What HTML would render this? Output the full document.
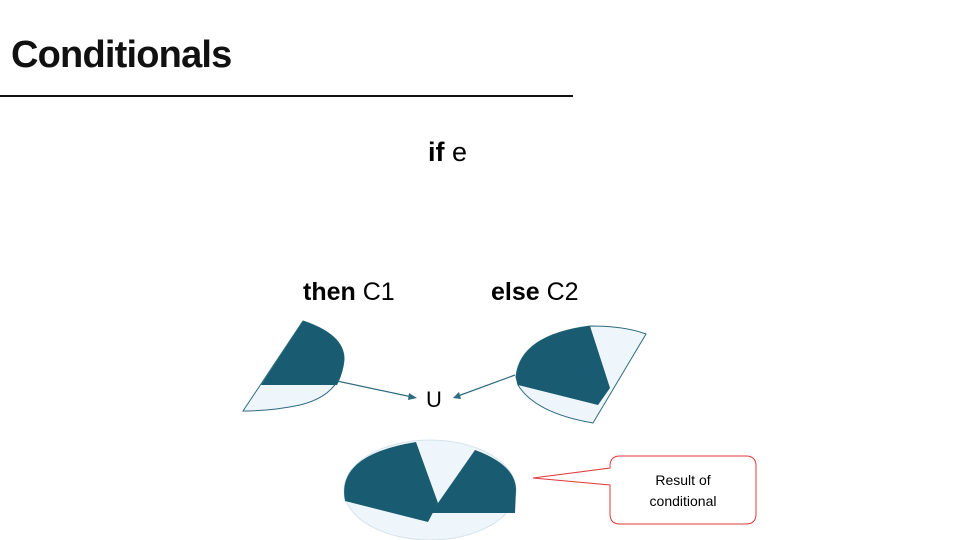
<!DOCTYPE html>
<html><head><style>
body{margin:0;background:#fff;}
svg{display:block;}
text{font-family:"Liberation Sans",sans-serif;}
</style></head><body>
<svg width="960" height="540" viewBox="0 0 960 540">
<text x="11" y="67" font-size="38" font-weight="bold" fill="#111" style="letter-spacing:-0.8px">Conditionals</text>
<line x1="0" y1="96" x2="573" y2="96" stroke="#111" stroke-width="2"/>
<text x="428" y="161" font-size="27"><tspan font-weight="bold">if</tspan> e</text>
<text x="303" y="300" font-size="25"><tspan font-weight="bold">then</tspan> C1</text>
<text x="491" y="300" font-size="25"><tspan font-weight="bold">else</tspan> C2</text>
<path d="M243,411 L303,321 Q345,335 344,360 Q341,395 300,405 Q272,411 243,411 Z" fill="#eef6fb" stroke="#2e6b80" stroke-width="1"/>
<path d="M261,385 L303,321 Q345,335 344,360 Q343,374 337,385 Z" fill="#195b70"/>
<path d="M516,377 Q520,335 590,326 Q625,326 646,334 L593,423 Q535,413 518,385 Z" fill="#eef6fb" stroke="#2e6b80" stroke-width="1"/>
<path d="M516,377 Q520,335 590,326 L610,388 L598,405 L518,385 Z" fill="#195b70"/>
<g stroke="#2e6b80" stroke-width="1.2" fill="#2e6b80">
<line x1="337" y1="381" x2="412" y2="397"/>
<polygon points="417,398 409,393 408,400" stroke="none"/>
<line x1="515" y1="375" x2="458" y2="396"/>
<polygon points="453,398 459,392 461,399" stroke="none"/>
</g>
<text x="426" y="407" font-size="22">U</text>
<ellipse cx="430" cy="490" rx="86" ry="50" fill="#eef6fb" stroke="#d6e3ea" stroke-width="1"/>
<path d="M345,501 Q336,455 416,442 L438,503 L428,522 Z" fill="#195b70"/>
<path d="M438,503 L475,450 Q516,465 516,490 L515,513 L432,513 Z" fill="#195b70"/>
<path d="M620,456 L746,456 Q756,456 756,466 L756,514 Q756,524 746,524 L620,524 Q610,524 610,514 L610,485 L533,478 L610,468 L610,466 Q610,456 620,456 Z" fill="#fff" stroke="#e03a3a" stroke-width="1"/>
<text x="683" y="485" font-size="14" text-anchor="middle">Result of</text>
<text x="683" y="506" font-size="14" text-anchor="middle">conditional</text>
</svg>
</body></html>
